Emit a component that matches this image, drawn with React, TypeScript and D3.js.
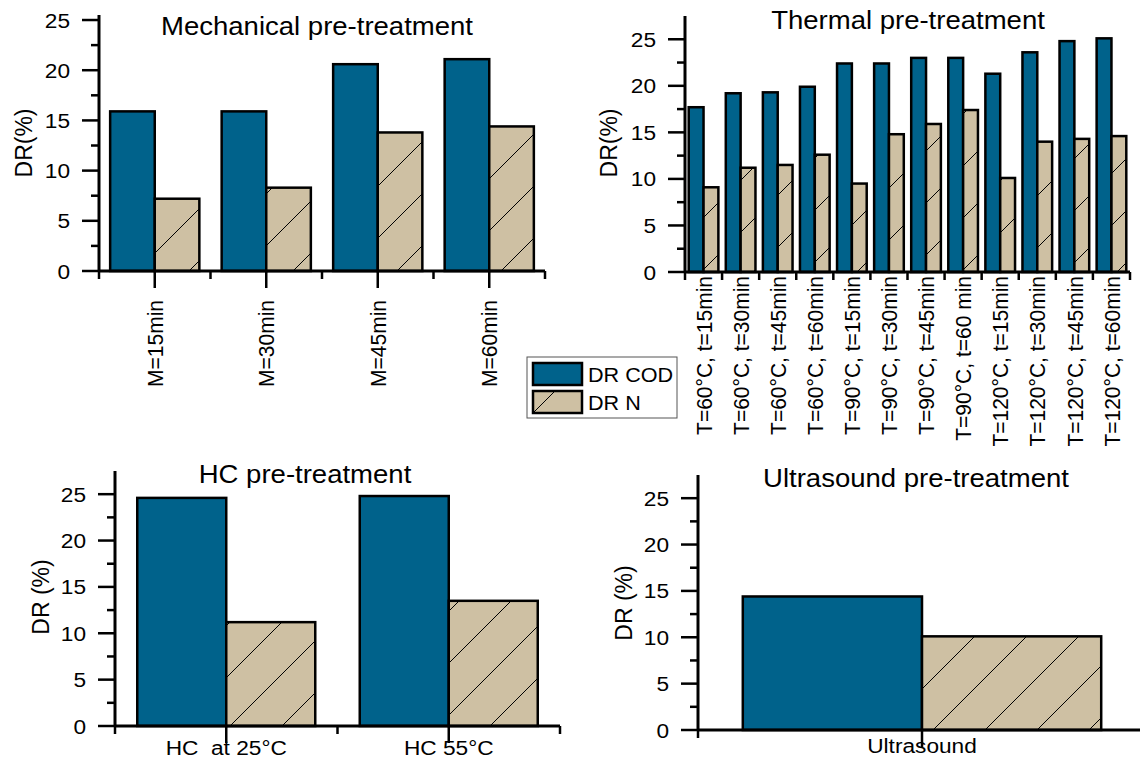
import React from 'react';
import * as d3 from 'd3';

// ---- data ----
const mechCategories = ['M=15min', 'M=30min', 'M=45min', 'M=60min'];
const mechCOD = [15.9, 15.9, 20.6, 21.1];
const mechN = [7.2, 8.3, 13.8, 14.4];

const thermalCategories = [
  'T=60°C, t=15min', 'T=60°C, t=30min', 'T=60°C, t=45min', 'T=60°C, t=60min',
  'T=90°C, t=15min', 'T=90°C, t=30min', 'T=90°C, t=45min', 'T=90°C, t=60 min',
  'T=120°C, t=15min', 'T=120°C, t=30min', 'T=120°C, t=45min', 'T=120°C, t=60min',
];
const thermalCOD = [17.7, 19.2, 19.3, 19.9, 22.4, 22.4, 23.0, 23.0, 21.3, 23.6, 24.8, 25.1];
const thermalN = [9.1, 11.2, 11.5, 12.6, 9.5, 14.8, 15.9, 17.4, 10.1, 14.0, 14.3, 14.6];

const hcCategories = ['HC  at 25°C', 'HC 55°C'];
const hcCOD = [24.6, 24.8];
const hcN = [11.2, 13.5];

const usCategories = ['Ultrasound'];
const usCOD = [14.4];
const usN = [10.1];

const yTicks = [0, 5, 10, 15, 20, 25];
const seriesNames = ['DR COD', 'DR N'];

// ---- style ----
const COD_COLOR = '#00628B';
const N_COLOR = '#CEC0A3';
const FONT = '"Liberation Sans", Arial, Helvetica, sans-serif';
const SX = 1.08; // slight horizontal widening of the lettering

type TxtProps = {
  x: number; y: number; size: number; anchor?: string; rotate?: boolean; dy?: string; children: React.ReactNode;
};
function Txt({ x, y, size, anchor = 'start', rotate = false, dy, children }: TxtProps) {
  return (
    <text
      transform={`translate(${x},${y}) scale(${SX},1)${rotate ? ' rotate(-90)' : ''}`}
      fontFamily={FONT}
      fontSize={size}
      textAnchor={anchor}
      dy={dy}
      fill="#000"
    >
      {children}
    </text>
  );
}

type PanelProps = {
  id: string;
  categories: string[];
  cod: number[];
  n: number[];
  xRange: [number, number];
  baseline: number;
  top: number;
  yMax: number;
  title: string;
  titleX: number;
  titleY: number;
  yLabel: string;
  yLabelX: number;
  yLabelY: number;
  rotatedLabels: boolean;
  labelOffset: number;
  centerTicks: boolean;
  hatchOffset: number;
};

function Panel(p: PanelProps) {
  const x = d3.scaleBand<string>().domain(p.categories).range(p.xRange).paddingInner(0.2).paddingOuter(0.1);
  const y = d3.scaleLinear().domain([0, p.yMax]).range([p.baseline, p.top]);
  const step = x.step();
  const bw = x.bandwidth() / 2;
  const x0 = p.xRange[0];
  const minor = d3.range(2.5, p.yMax, 5);
  const patId = `hatch-${p.id}`;

  return (
    <g>
      <defs>
        <pattern id={patId} patternUnits="userSpaceOnUse" width={52} height={52} x={p.hatchOffset} y={0}>
          <rect width={52} height={52} fill={N_COLOR} />
          <path d="M0,52 L52,0 M-13,13 L13,-13 M39,65 L65,39" stroke="#000" strokeWidth={1} />
        </pattern>
      </defs>

      {/* bars */}
      {p.categories.map((c, i) => {
        const xl = x(c)!;
        return (
          <g key={c}>
            <rect x={xl} y={y(p.cod[i])} width={bw} height={p.baseline - y(p.cod[i])}
              fill={COD_COLOR} stroke="#000" strokeWidth={2.5} />
            <rect x={xl + bw} y={y(p.n[i])} width={bw} height={p.baseline - y(p.n[i])}
              fill={`url(#${patId})`} stroke="#000" strokeWidth={2.5} />
          </g>
        );
      })}

      {/* y axis */}
      <line x1={x0} x2={x0} y1={y(p.yMax)} y2={p.baseline} stroke="#000" strokeWidth={3} />
      {yTicks.map((t) => (
        <g key={t}>
          <line x1={x0 - 17} x2={x0} y1={y(t)} y2={y(t)} stroke="#000" strokeWidth={2.5} />
          <Txt x={x0 - 29} y={y(t)} size={21} anchor="end" dy="0.36em">{t}</Txt>
        </g>
      ))}
      {minor.map((t) => (
        <line key={t} x1={x0 - 8} x2={x0} y1={y(t)} y2={y(t)} stroke="#000" strokeWidth={2.5} />
      ))}

      {/* x axis */}
      <line x1={x0} x2={p.xRange[1]} y1={p.baseline} y2={p.baseline} stroke="#000" strokeWidth={3} />
      {d3.range(p.categories.length + 1).map((i) => (
        <line key={i} x1={x0 + i * step} x2={x0 + i * step} y1={p.baseline} y2={p.baseline + 8}
          stroke="#000" strokeWidth={2.5} />
      ))}
      {p.centerTicks && p.categories.map((c) => (
        <line key={c} x1={x(c)! + bw} x2={x(c)! + bw} y1={p.baseline} y2={p.baseline + 17}
          stroke="#000" strokeWidth={2.5} />
      ))}
      {p.categories.map((c) => (
        p.rotatedLabels ? (
          <Txt key={c} x={x(c)! + bw} y={p.baseline + p.labelOffset} size={21} anchor="end" rotate dy="0.36em">{c}</Txt>
        ) : (
          <Txt key={c} x={x(c)! + bw} y={p.baseline + p.labelOffset} size={21} anchor="middle">
            <tspan style={{ whiteSpace: 'pre' }}>{c}</tspan>
          </Txt>
        )
      ))}

      {/* labels */}
      <Txt x={p.titleX} y={p.titleY} size={25.5} anchor="middle">{p.title}</Txt>
      <Txt x={p.yLabelX} y={p.yLabelY} size={23} anchor="middle" rotate dy="0.36em">{p.yLabel}</Txt>
    </g>
  );
}

function Legend() {
  return (
    <g>
      <defs>
        <pattern id="hatch-legend" patternUnits="userSpaceOnUse" width={52} height={52} x={10} y={0}>
          <rect width={52} height={52} fill={N_COLOR} />
          <path d="M0,52 L52,0 M-13,13 L13,-13 M39,65 L65,39" stroke="#000" strokeWidth={1} />
        </pattern>
      </defs>
      <rect x={527} y={357} width={150} height={61} fill="#fff" stroke="#555" strokeWidth={1} />
      <rect x={533} y={363} width={49} height={22} fill={COD_COLOR} stroke="#000" strokeWidth={2.5} />
      <rect x={533} y={391} width={49} height={22} fill="url(#hatch-legend)" stroke="#000" strokeWidth={2.5} />
      <Txt x={588} y={382} size={20}>{seriesNames[0]}</Txt>
      <Txt x={588} y={410} size={20}>{seriesNames[1]}</Txt>
    </g>
  );
}

export default function App() {
  return (
    <div style={{ position: 'absolute', left: 0, top: 0 }}>
      <svg width={1140} height={760} style={{ display: 'block', background: '#fff' }}>
        <Panel id="mech" categories={mechCategories} cod={mechCOD} n={mechN}
          xRange={[99, 545]} baseline={271} top={15} yMax={25.5}
          title="Mechanical pre-treatment" titleX={317} titleY={35}
          yLabel="DR(%)" yLabelX={23} yLabelY={143}
          rotatedLabels labelOffset={29} centerTicks hatchOffset={44} />
        <Panel id="thermal" categories={thermalCategories} cod={thermalCOD} n={thermalN}
          xRange={[685, 1130]} baseline={272} top={16} yMax={27.5}
          title="Thermal pre-treatment" titleX={908} titleY={29}
          yLabel="DR(%)" yLabelX={608} yLabelY={143}
          rotatedLabels labelOffset={4} centerTicks={false} hatchOffset={37} />
        <Panel id="hc" categories={hcCategories} cod={hcCOD} n={hcN}
          xRange={[115, 560]} baseline={726} top={471} yMax={27.5}
          title="HC pre-treatment" titleX={305} titleY={483}
          yLabel="DR (%)" yLabelX={40} yLabelY={597}
          rotatedLabels={false} labelOffset={29} centerTicks hatchOffset={20} />
        <Panel id="us" categories={usCategories} cod={usCOD} n={usN}
          xRange={[698, 1146]} baseline={730} top={475} yMax={27.5}
          title="Ultrasound pre-treatment" titleX={916} titleY={487}
          yLabel="DR (%)" yLabelX={623} yLabelY={603}
          rotatedLabels={false} labelOffset={23} centerTicks hatchOffset={51} />
        <Legend />
      </svg>
    </div>
  );
}
